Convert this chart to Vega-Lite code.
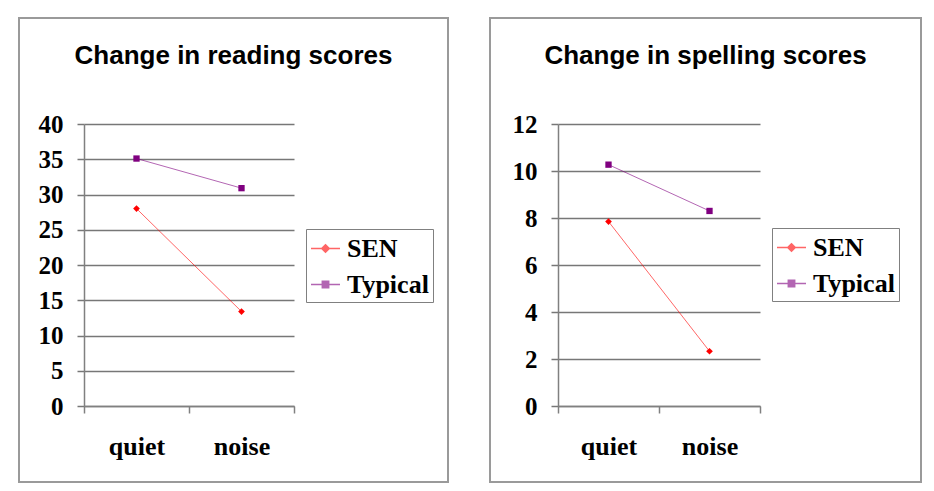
{
  "$schema": "https://vega.github.io/schema/vega-lite/v6.json",
  "background": "white",
  "padding": {"left": 18, "top": 17, "right": 0, "bottom": 0},
  "datasets": {
    "reading": [
      {"condition": "quiet", "group": "SEN", "score": 28.0},
      {"condition": "noise", "group": "SEN", "score": 13.4},
      {"condition": "quiet", "group": "Typical", "score": 35.1},
      {"condition": "noise", "group": "Typical", "score": 30.9}
    ],
    "spelling": [
      {"condition": "quiet", "group": "SEN", "score": 7.85},
      {"condition": "noise", "group": "SEN", "score": 2.33},
      {"condition": "quiet", "group": "Typical", "score": 10.27},
      {"condition": "noise", "group": "Typical", "score": 8.3}
    ]
  },
  "spacing": 40,
  "hconcat": [
    {
      "width": 429,
      "height": 464,
      "data": {"name": "reading"},
      "title": {"text": "Change in reading scores", "anchor": "middle", "frame": "group", "offset": -64, "baseline": "middle", "font": "Liberation Sans", "fontSize": 26, "fontWeight": "bold", "color": "#000000"},
      "encoding": {
        "x": {"field": "condition", "type": "nominal", "sort": ["quiet", "noise"],
          "scale": {"type": "band", "domain": ["quiet", "noise"], "range": [65, 275], "paddingInner": 0, "paddingOuter": 0},
          "axis": {"title": null, "labelAngle": 0, "grid": false, "domain": true, "domainColor": "#808080", "domainWidth": 1.5, "ticks": true, "tickBand": "extent", "tickSize": 7, "tickColor": "#808080", "tickWidth": 1.5, "labelFont": "Liberation Serif", "labelFontSize": 26, "labelFontWeight": "bold", "labelColor": "#000000", "labelPadding": 20, "offset": -76}},
        "y": {"field": "score", "type": "quantitative",
          "scale": {"domain": [0, 40], "range": [388, 106], "nice": false},
          "axis": {"title": null, "values": [0, 5, 10, 15, 20, 25, 30, 35, 40], "grid": true, "gridColor": "#777777", "gridWidth": 1.5, "domain": true, "domainColor": "#808080", "domainWidth": 1.5, "tickSize": 7, "tickColor": "#777777", "tickWidth": 1.5, "labelFont": "Liberation Serif", "labelFontSize": 25, "labelFontWeight": "bold", "labelColor": "#000000", "labelPadding": 14, "offset": -65}},
        "color": {"field": "group", "type": "nominal",
          "scale": {"domain": ["SEN", "Typical"], "range": ["#ff0000", "#800080"]},
          "legend": {"orient": "none", "legendX": 287, "legendY": 211, "title": null, "strokeColor": "#808080", "padding": 4, "symbolSize": 841, "labelFont": "Liberation Serif", "labelFontSize": 26, "labelFontWeight": "bold", "labelColor": "#000000", "labelOffset": 6, "rowPadding": 7, "labelLimit": 200,
            "encode": {"symbols": {"update": {
              "fill": {"signal": "datum.value === 'SEN' ? '#ff0000' : '#800080'"},
              "stroke": {"signal": "datum.value === 'SEN' ? '#ff6060' : '#a040a0'"},
              "strokeWidth": {"value": 1},
              "opacity": {"value": 1}}}}}}
      },
      "layer": [
        {"mark": {"type": "line", "strokeWidth": 1, "opacity": 0.6}},
        {"transform": [{"filter": "datum.group === 'SEN'"}],
         "mark": {"type": "point", "filled": true, "size": 45, "opacity": 1, "shape": "diamond"}},
        {"transform": [{"filter": "datum.group === 'Typical'"}],
         "mark": {"type": "point", "filled": true, "size": 40, "opacity": 1, "shape": "square"}},
        {"mark": {"type": "point", "filled": true, "size": 0, "opacity": 1},
         "encoding": {"shape": {"field": "group", "type": "nominal",
           "scale": {"domain": ["SEN", "Typical"], "range": ["M-1,0H1M0,-0.26L0.26,0L0,0.26L-0.26,0Z", "M-1,0H1M-0.22,-0.22H0.22V0.22H-0.22Z"]},
           "legend": {"orient": "none", "legendX": 287, "legendY": 211, "title": null, "strokeColor": "#808080", "padding": 4, "symbolSize": 841, "labelFont": "Liberation Serif", "labelFontSize": 26, "labelFontWeight": "bold", "labelColor": "#000000", "labelOffset": 6, "rowPadding": 7, "labelLimit": 200}}}}
      ]
    },
    {
      "width": 431,
      "height": 464,
      "data": {"name": "spelling"},
      "title": {"text": "Change in spelling scores", "anchor": "middle", "frame": "group", "offset": -64, "baseline": "middle", "font": "Liberation Sans", "fontSize": 26, "fontWeight": "bold", "color": "#000000"},
      "encoding": {
        "x": {"field": "condition", "type": "nominal", "sort": ["quiet", "noise"],
          "scale": {"type": "band", "domain": ["quiet", "noise"], "range": [68, 270], "paddingInner": 0, "paddingOuter": 0},
          "axis": {"title": null, "labelAngle": 0, "grid": false, "domain": true, "domainColor": "#808080", "domainWidth": 1.5, "ticks": true, "tickBand": "extent", "tickSize": 7, "tickColor": "#808080", "tickWidth": 1.5, "labelFont": "Liberation Serif", "labelFontSize": 26, "labelFontWeight": "bold", "labelColor": "#000000", "labelPadding": 20, "offset": -76}},
        "y": {"field": "score", "type": "quantitative",
          "scale": {"domain": [0, 12], "range": [388, 106], "nice": false},
          "axis": {"title": null, "values": [0, 2, 4, 6, 8, 10, 12], "grid": true, "gridColor": "#777777", "gridWidth": 1.5, "domain": true, "domainColor": "#808080", "domainWidth": 1.5, "tickSize": 7, "tickColor": "#777777", "tickWidth": 1.5, "labelFont": "Liberation Serif", "labelFontSize": 25, "labelFontWeight": "bold", "labelColor": "#000000", "labelPadding": 14, "offset": -68}},
        "color": {"field": "group", "type": "nominal",
          "scale": {"domain": ["SEN", "Typical"], "range": ["#ff0000", "#800080"]},
          "legend": {"orient": "none", "legendX": 282, "legendY": 210, "title": null, "strokeColor": "#808080", "padding": 4, "symbolSize": 841, "labelFont": "Liberation Serif", "labelFontSize": 26, "labelFontWeight": "bold", "labelColor": "#000000", "labelOffset": 6, "rowPadding": 7, "labelLimit": 200,
            "encode": {"symbols": {"update": {
              "fill": {"signal": "datum.value === 'SEN' ? '#ff0000' : '#800080'"},
              "stroke": {"signal": "datum.value === 'SEN' ? '#ff6060' : '#a040a0'"},
              "strokeWidth": {"value": 1},
              "opacity": {"value": 1}}}}}}
      },
      "layer": [
        {"mark": {"type": "line", "strokeWidth": 1, "opacity": 0.6}},
        {"transform": [{"filter": "datum.group === 'SEN'"}],
         "mark": {"type": "point", "filled": true, "size": 45, "opacity": 1, "shape": "diamond"}},
        {"transform": [{"filter": "datum.group === 'Typical'"}],
         "mark": {"type": "point", "filled": true, "size": 40, "opacity": 1, "shape": "square"}},
        {"mark": {"type": "point", "filled": true, "size": 0, "opacity": 1},
         "encoding": {"shape": {"field": "group", "type": "nominal",
           "scale": {"domain": ["SEN", "Typical"], "range": ["M-1,0H1M0,-0.26L0.26,0L0,0.26L-0.26,0Z", "M-1,0H1M-0.22,-0.22H0.22V0.22H-0.22Z"]},
           "legend": {"orient": "none", "legendX": 282, "legendY": 210, "title": null, "strokeColor": "#808080", "padding": 4, "symbolSize": 841, "labelFont": "Liberation Serif", "labelFontSize": 26, "labelFontWeight": "bold", "labelColor": "#000000", "labelOffset": 6, "rowPadding": 7, "labelLimit": 200}}}}
      ]
    }
  ],
  "resolve": {"scale": {"x": "independent", "y": "independent", "color": "independent", "shape": "independent"}},
  "config": {
    "view": {"stroke": "#9a9a9a", "strokeWidth": 2},
    "axis": {"zindex": 0}
  }
}
